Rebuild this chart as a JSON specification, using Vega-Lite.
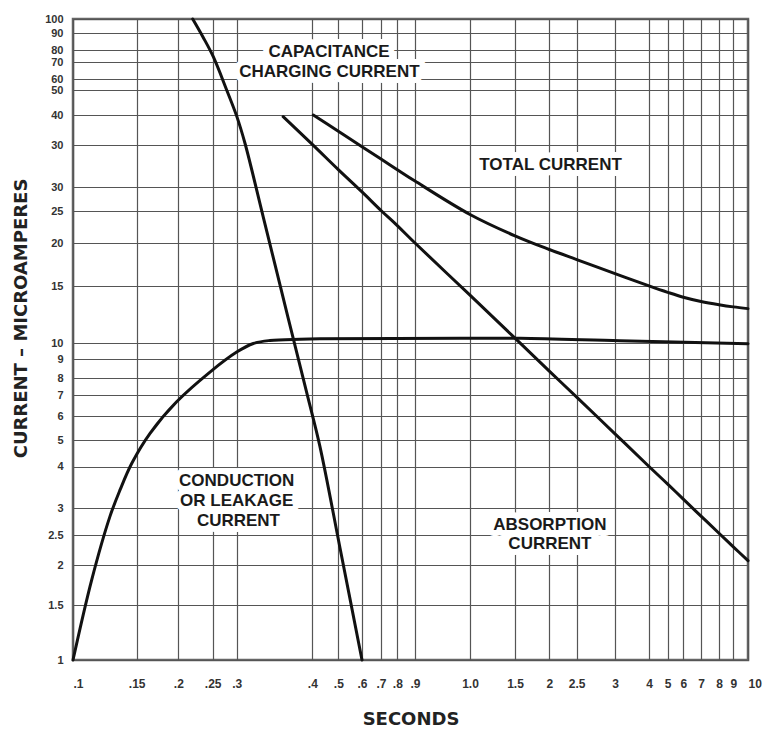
{
  "$schema": "https://vega.github.io/schema/vega-lite/v6.json",
  "width": 675,
  "height": 641,
  "autosize": {"type": "none"},
  "padding": {"left": 73, "top": 19, "right": 15, "bottom": 69},
  "background": "white",
  "config": {
    "view": {"stroke": "#666", "strokeWidth": 2.5},
    "axis": {"gridColor": "#555", "gridWidth": 1.2, "gridOpacity": 1}
  },
  "datasets": {
    "curves": [
      {"series": "capacitance", "seconds": 0.2196, "current": 100},
      {"series": "capacitance", "seconds": 0.2347, "current": 87.7},
      {"series": "capacitance", "seconds": 0.2511, "current": 74.4},
      {"series": "capacitance", "seconds": 0.278, "current": 50},
      {"series": "capacitance", "seconds": 0.3, "current": 39.8},
      {"series": "capacitance", "seconds": 0.3096, "current": 35.27},
      {"series": "capacitance", "seconds": 0.332, "current": 23.93},
      {"series": "capacitance", "seconds": 0.365, "current": 11.92},
      {"series": "capacitance", "seconds": 0.3916, "current": 7.13},
      {"series": "capacitance", "seconds": 0.427, "current": 4.74},
      {"series": "capacitance", "seconds": 0.5066, "current": 2.27},
      {"series": "capacitance", "seconds": 0.6, "current": 1},
      {"series": "conduction", "seconds": 0.1, "current": 1},
      {"series": "conduction", "seconds": 0.1126, "current": 1.795},
      {"series": "conduction", "seconds": 0.1266, "current": 2.84},
      {"series": "conduction", "seconds": 0.1349, "current": 3.4},
      {"series": "conduction", "seconds": 0.1454, "current": 4.11},
      {"series": "conduction", "seconds": 0.1645, "current": 5.26},
      {"series": "conduction", "seconds": 0.1977, "current": 6.66},
      {"series": "conduction", "seconds": 0.2456, "current": 8.3},
      {"series": "conduction", "seconds": 0.3, "current": 9.42},
      {"series": "conduction", "seconds": 0.3196, "current": 9.97},
      {"series": "conduction", "seconds": 0.3405, "current": 10.18},
      {"series": "conduction", "seconds": 0.3816, "current": 10.27},
      {"series": "conduction", "seconds": 0.427, "current": 10.3},
      {"series": "conduction", "seconds": 0.981, "current": 10.34},
      {"series": "conduction", "seconds": 1.564, "current": 10.34},
      {"series": "conduction", "seconds": 3.13, "current": 10.16},
      {"series": "conduction", "seconds": 10, "current": 9.95},
      {"series": "absorption", "seconds": 0.358, "current": 39.7},
      {"series": "absorption", "seconds": 0.4, "current": 35.1},
      {"series": "absorption", "seconds": 0.5, "current": 32.0},
      {"series": "absorption", "seconds": 0.6, "current": 28.95},
      {"series": "absorption", "seconds": 0.7, "current": 25.1},
      {"series": "absorption", "seconds": 0.8, "current": 22.6},
      {"series": "absorption", "seconds": 0.9, "current": 20.04},
      {"series": "absorption", "seconds": 1, "current": 14.05},
      {"series": "absorption", "seconds": 1.5, "current": 10.35},
      {"series": "absorption", "seconds": 2, "current": 8.35},
      {"series": "absorption", "seconds": 2.5, "current": 6.89},
      {"series": "absorption", "seconds": 3, "current": 5.24},
      {"series": "absorption", "seconds": 4, "current": 4.0},
      {"series": "absorption", "seconds": 5, "current": 3.54},
      {"series": "absorption", "seconds": 6, "current": 3.19},
      {"series": "absorption", "seconds": 7, "current": 2.84},
      {"series": "absorption", "seconds": 8, "current": 2.53},
      {"series": "absorption", "seconds": 9, "current": 2.29},
      {"series": "absorption", "seconds": 10, "current": 2.065},
      {"series": "total", "seconds": 0.4034, "current": 40},
      {"series": "total", "seconds": 0.5, "current": 37.2},
      {"series": "total", "seconds": 0.6, "current": 34.78},
      {"series": "total", "seconds": 0.7, "current": 33.25},
      {"series": "total", "seconds": 0.8, "current": 31.99},
      {"series": "total", "seconds": 0.9, "current": 30.69},
      {"series": "total", "seconds": 1, "current": 24.41},
      {"series": "total", "seconds": 1.5, "current": 21.06},
      {"series": "total", "seconds": 2, "current": 19.18},
      {"series": "total", "seconds": 2.5, "current": 17.92},
      {"series": "total", "seconds": 3, "current": 16.31},
      {"series": "total", "seconds": 4, "current": 15.01},
      {"series": "total", "seconds": 5, "current": 14.34},
      {"series": "total", "seconds": 6, "current": 13.85},
      {"series": "total", "seconds": 7, "current": 13.44},
      {"series": "total", "seconds": 8, "current": 13.13},
      {"series": "total", "seconds": 9, "current": 12.93},
      {"series": "total", "seconds": 10, "current": 12.77}
    ],
    "labels": [
      {"text": "CAPACITANCE", "seconds": 0.4616, "current": 77.9},
      {"text": "CHARGING CURRENT", "seconds": 0.463, "current": 64.0},
      {"text": "TOTAL CURRENT", "seconds": 2.02, "current": 32.5},
      {"text": "CONDUCTION", "seconds": 0.3, "current": 3.63},
      {"text": "OR LEAKAGE", "seconds": 0.3, "current": 3.15},
      {"text": "CURRENT", "seconds": 0.302, "current": 2.75},
      {"text": "ABSORPTION", "seconds": 2.01, "current": 2.68},
      {"text": "CURRENT", "seconds": 2.01, "current": 2.34}
    ]
  },
  "encoding": {
    "x": {
      "field": "seconds",
      "type": "quantitative",
      "scale": {
        "type": "log",
        "nice": false,
        "zero": false,
        "domain": [0.1, 0.15, 0.2, 0.25, 0.3, 0.4, 0.5, 0.6, 0.7, 0.8, 0.9, 1, 1.5, 2, 2.5, 3, 4, 5, 6, 7, 8, 9, 10],
        "range": [0, 63.7, 105.3, 139.7, 163.7, 239.3, 265.3, 289, 308, 324.3, 342, 397, 442, 476.3, 503.7, 542, 576, 594.7, 610.3, 628, 646, 660.3, 675]
      },
      "axis": {
        "values": [0.1, 0.15, 0.2, 0.25, 0.3, 0.4, 0.5, 0.6, 0.7, 0.8, 0.9, 1, 1.5, 2, 2.5, 3, 4, 5, 6, 7, 8, 9, 10],
        "grid": true,
        "ticks": false,
        "domain": false,
        "labelExpr": "datum.value == 1 ? '1.0' : (datum.value < 1 ? replace(toString(datum.value), '0.', '.') : toString(datum.value))",
        "labelFont": "Liberation Sans",
        "labelFontWeight": "bold",
        "labelFontSize": 12,
        "labelColor": "#333",
        "labelPadding": 18,
        "labelOverlap": false,
        "labelFlush": false,
        "labelBound": false,
        "labelAlign": {"condition": {"test": "datum.value <= 0.1 || datum.value >= 10", "value": "left"}, "value": "center"},
        "title": "SECONDS",
        "titleFont": "DejaVu Sans",
        "titleFontWeight": "bold",
        "titleFontSize": 18,
        "titleColor": "#222",
        "titleX": 337.5,
        "titleY": 64,
        "titleAlign": "center",
        "titleBaseline": "alphabetic"
      }
    },
    "y": {
      "field": "current",
      "type": "quantitative",
      "scale": {
        "type": "log",
        "nice": false,
        "zero": false,
        "domain": [1, 1.5, 2, 2.5, 3, 4, 5, 6, 7, 8, 9, 10, 15, 20, 25, 30, 35, 40, 50, 60, 70, 80, 90, 100],
        "range": [641, 586, 546, 516, 489, 447.5, 421, 397, 376, 359, 340, 324, 267, 224.3, 192, 168.3, 126, 96, 71, 60, 43.3, 31, 14.3, 0]
      },
      "axis": {
        "values": [1, 1.5, 2, 2.5, 3, 4, 5, 6, 7, 8, 9, 10, 15, 20, 25, 30, 35, 40, 50, 60, 70, 80, 90, 100],
        "grid": true,
        "ticks": false,
        "domain": false,
        "labelExpr": "datum.value == 35 ? '30' : toString(datum.value)",
        "labelFont": "Liberation Sans",
        "labelFontWeight": "bold",
        "labelFontSize": 11,
        "labelColor": "#333",
        "labelPadding": 10,
        "labelOverlap": false,
        "labelFlush": false,
        "labelBound": false,
        "title": "CURRENT – MICROAMPERES",
        "titleFont": "DejaVu Sans",
        "titleFontWeight": "bold",
        "titleFontSize": 18,
        "titleColor": "#222",
        "titleAngle": -90,
        "titleX": -47,
        "titleY": 299,
        "titleAlign": "center",
        "titleBaseline": "alphabetic"
      }
    }
  },
  "layer": [
    {
      "data": {"name": "labels"},
      "mark": {"type": "text", "font": "Liberation Sans", "fontWeight": "bold", "fontSize": 17, "align": "center", "baseline": "middle", "fill": "white", "stroke": "white", "strokeWidth": 12, "strokeJoin": "round"},
      "encoding": {"text": {"field": "text"}}
    },
    {
      "data": {"name": "curves"},
      "mark": {"type": "line", "color": "#111", "strokeWidth": 3, "interpolate": "catmull-rom", "strokeCap": "round"},
      "encoding": {"detail": {"field": "series"}}
    },
    {
      "data": {"name": "labels"},
      "mark": {"type": "text", "font": "Liberation Sans", "fontWeight": "bold", "fontSize": 17, "align": "center", "baseline": "middle", "fill": "#1a1a1a"},
      "encoding": {"text": {"field": "text"}}
    }
  ]
}
